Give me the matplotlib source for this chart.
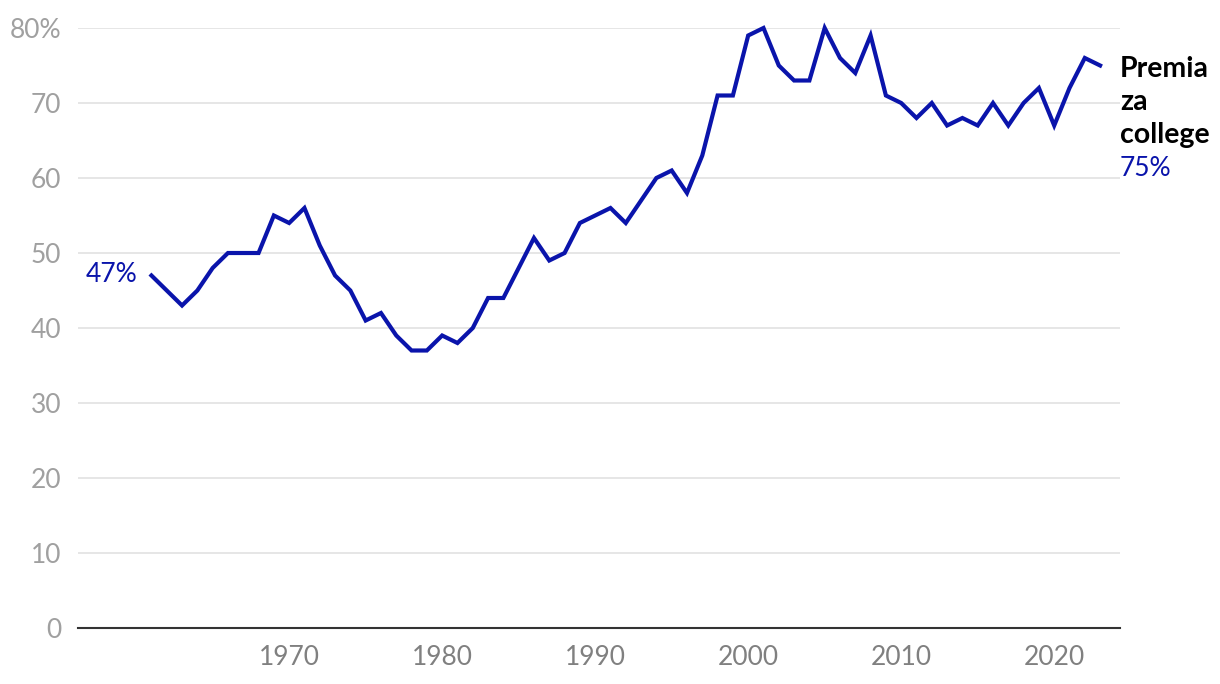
import matplotlib.pyplot as plt

years = list(range(1961, 2024))
premium = [47, 45, 43, 45, 48, 50, 50, 50, 55, 54, 56, 51, 47, 45, 41, 42, 39, 37, 37, 39,
           38, 40, 44, 44, 48, 52, 49, 50, 54, 55, 56, 54, 57, 60, 61, 58, 63, 71, 71, 79,
           80, 75, 73, 73, 80, 76, 74, 79, 71, 70, 68, 70, 67, 68, 67, 70, 67, 70, 72, 67,
           72, 76, 75]
yticks = [0, 10, 20, 30, 40, 50, 60, 70, 80]
ytick_labels = ["0", "10", "20", "30", "40", "50", "60", "70", "80%"]
xticks = [1970, 1980, 1990, 2000, 2010, 2020]
label_lines = ["Premia", "za", "college"]

BLUE = "#0a14ab"
plt.rcParams["font.family"] = ["Lato", "DejaVu Sans"]

fig = plt.figure(figsize=(12.2, 6.84), dpi=100)
ax = fig.add_axes([78 / 1220, 1 - 628 / 684, (1120 - 78) / 1220, 600 / 684])

ax.plot(years, premium, color=BLUE, lw=3, solid_joinstyle="miter", clip_on=False, zorder=3)

ax.set_xlim(1956.2, 2024.3)
ax.set_ylim(0, 80)
ax.set_yticks(yticks)
ax.set_yticklabels(ytick_labels)
ax.set_xticks(xticks)
ax.tick_params(axis="y", length=0, labelsize=19, labelcolor="#a0a0a0", pad=12)
ax.tick_params(axis="x", length=0, labelsize=19, labelcolor="#808080", pad=12)
ax.grid(axis="y", color="#e2e2e2", lw=1.2)
ax.set_axisbelow(True)
for s in ["top", "right", "left"]:
    ax.spines[s].set_visible(False)
ax.spines["bottom"].set_color("#333333")
ax.spines["bottom"].set_linewidth(1.5)
ax.spines["bottom"].set_zorder(4)

# start / end labels
ax.text(1960.1, 46.2, f"{premium[0]}%", color=BLUE, fontsize=19, ha="right", va="baseline")
tr = ax.get_yaxis_transform()
for i, line in enumerate(label_lines):
    ax.text(1.0, 73.5 - i * 4.4, line, transform=tr, fontsize=20.5, fontweight="bold",
            color="black", ha="left", va="baseline")
ax.text(1.0, 73.5 - 3 * 4.4, f"{premium[-1]}%", transform=tr, fontsize=19,
        color=BLUE, ha="left", va="baseline")

fig.savefig("out.png", dpi=100)
